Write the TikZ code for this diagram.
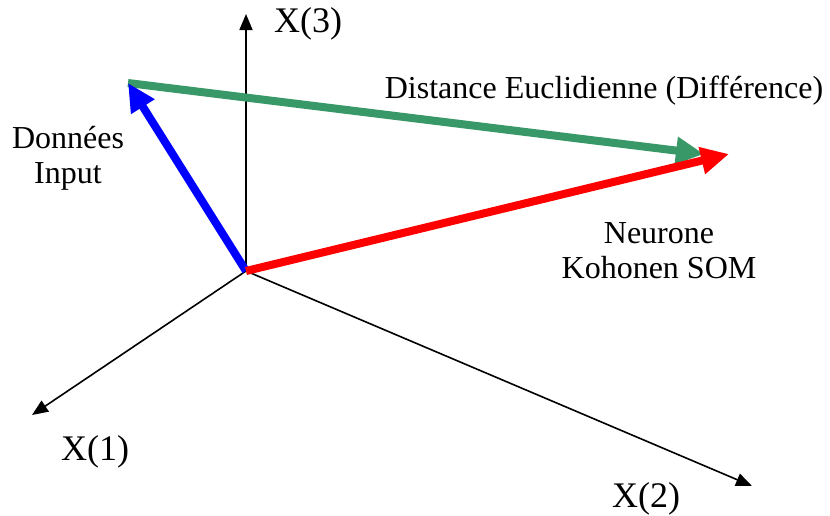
\documentclass[tikz,border=0pt]{standalone}
\usepackage{fontspec}
\setmainfont{Liberation Serif}
\usetikzlibrary{arrows.meta}
\definecolor{vgreen}{RGB}{56,152,104}
\definecolor{vblue}{RGB}{0,0,255}
\definecolor{vred}{RGB}{255,0,0}
\tikzset{
  axis/.style={draw=black, line width=1.6pt, -{Triangle[length=16pt,width=13pt]}},
  vec/.style={line width=8pt, -{Triangle[length=28pt,width=26pt]}},
  axlabel/.style={font=\fontsize{36}{40}\selectfont, inner sep=0pt, anchor=base west},
  lbl/.style={font=\fontsize{32}{35}\selectfont, inner sep=0pt, align=center, anchor=base},
}
\begin{document}
\begin{tikzpicture}[x=1pt,y=-1pt]
\useasboundingbox (0,0) rectangle (830,515);
\coordinate (O) at (246,271);
\coordinate (X1) at (32,415);
\coordinate (X2) at (752,486);
\coordinate (X3) at (246,14);
\coordinate (P) at (128,83);
\coordinate (N) at (729,154);
\coordinate (G) at (704,154);
\draw[axis] (O) -- (X1);
\draw[axis] (O) -- (X2);
\draw[axis] (O) -- (X3);
\draw[vec, vgreen] (P) -- (G);
\draw[vec, vblue] (O) -- (P);
\draw[vec, vred] (O) -- (N);
\node[axlabel] (l3) at (274,32) {X(3)};
\node[axlabel] (l1) at (61,460) {X(1)};
\node[axlabel] (l2) at (612,507) {X(2)};
\node[lbl] (dist) at (604,98) {Distance Euclidienne (Différence)};
\node[lbl] (don) at (68,183) {Données\\Input};
\node[lbl] (neu) at (659,278) {Neurone\\Kohonen SOM};
\end{tikzpicture}
\end{document}
